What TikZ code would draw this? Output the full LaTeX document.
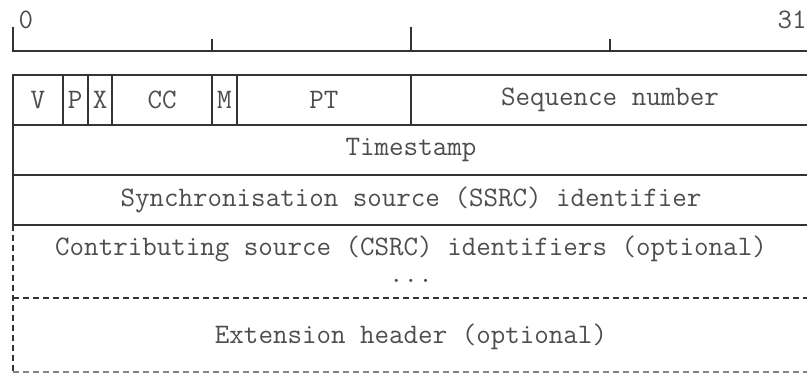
\documentclass[tikz,border=0pt]{standalone}
\definecolor{rulegray}{HTML}{333333}
\definecolor{textgray}{HTML}{4D4D4D}
\tikzset{
  field/.style={font=\ttfamily\fontsize{14.1}{16}\selectfont, text=textgray, inner sep=0pt},
  border/.style={draw=rulegray, line width=1pt},
  optline/.style={draw=rulegray, line width=1pt, dash pattern=on 3pt off 2pt}
}
\begin{document}
\begin{tikzpicture}[x=12.4375pt,y=-0.5pt]
    \useasboundingbox (-0.5226,0) rectangle (31.92,373);
    % bit ruler
    \draw[border] (0,27) -- (0,51) -- (32,51);
    \draw[border] (8,39) -- (8,51);
    \draw[border] (16,27) -- (16,51);
    \draw[border] (24,39) -- (24,51);
    \node[field] (bitfirst) at (0.52,20) {0};
    \node[field] (bitlast) at (31.32,20) {31};
    % fixed header
    \draw[border] (0,75) rectangle (32,125);
    \draw[border] (2,75) -- (2,125);
    \draw[border] (3,75) -- (3,125);
    \draw[border] (4,75) -- (4,125);
    \draw[border] (8,75) -- (8,125);
    \draw[border] (9,75) -- (9,125);
    \draw[border] (16,75) -- (16,125);
    \node[field] (ver) at (1,100) {V};
    \node[field] (pad) at (2.5,100) {P};
    \node[field] (ext) at (3.5,100) {X};
    \node[field] (cc) at (6,100) {CC};
    \node[field] (mark) at (8.5,100) {M};
    \node[field] (pt) at (12.5,100) {PT};
    \node[field] (seq) at (24,100) {Sequence number};
    \draw[border] (0,125) rectangle (32,175);
    \node[field] (ts) at (16,150) {Timestamp};
    \draw[border] (0,175) rectangle (32,225);
    \node[field] (ssrc) at (16,200) {Synchronisation source (SSRC) identifier};
    % optional parts
    \draw[optline] (0,225) -- (0,372);
    \draw[optline] (0,298) -- (32,298);
    \draw[optline, draw=rulegray!60] (0,372) -- (32,372);
    \node[field] (csrc) at (16,249) {Contributing source (CSRC) identifiers (optional)};
    \node[field, anchor=base] (more) at (16,283) {...};
    \node[field] (exthdr) at (16,337) {Extension header (optional)};
\end{tikzpicture}
\end{document}
